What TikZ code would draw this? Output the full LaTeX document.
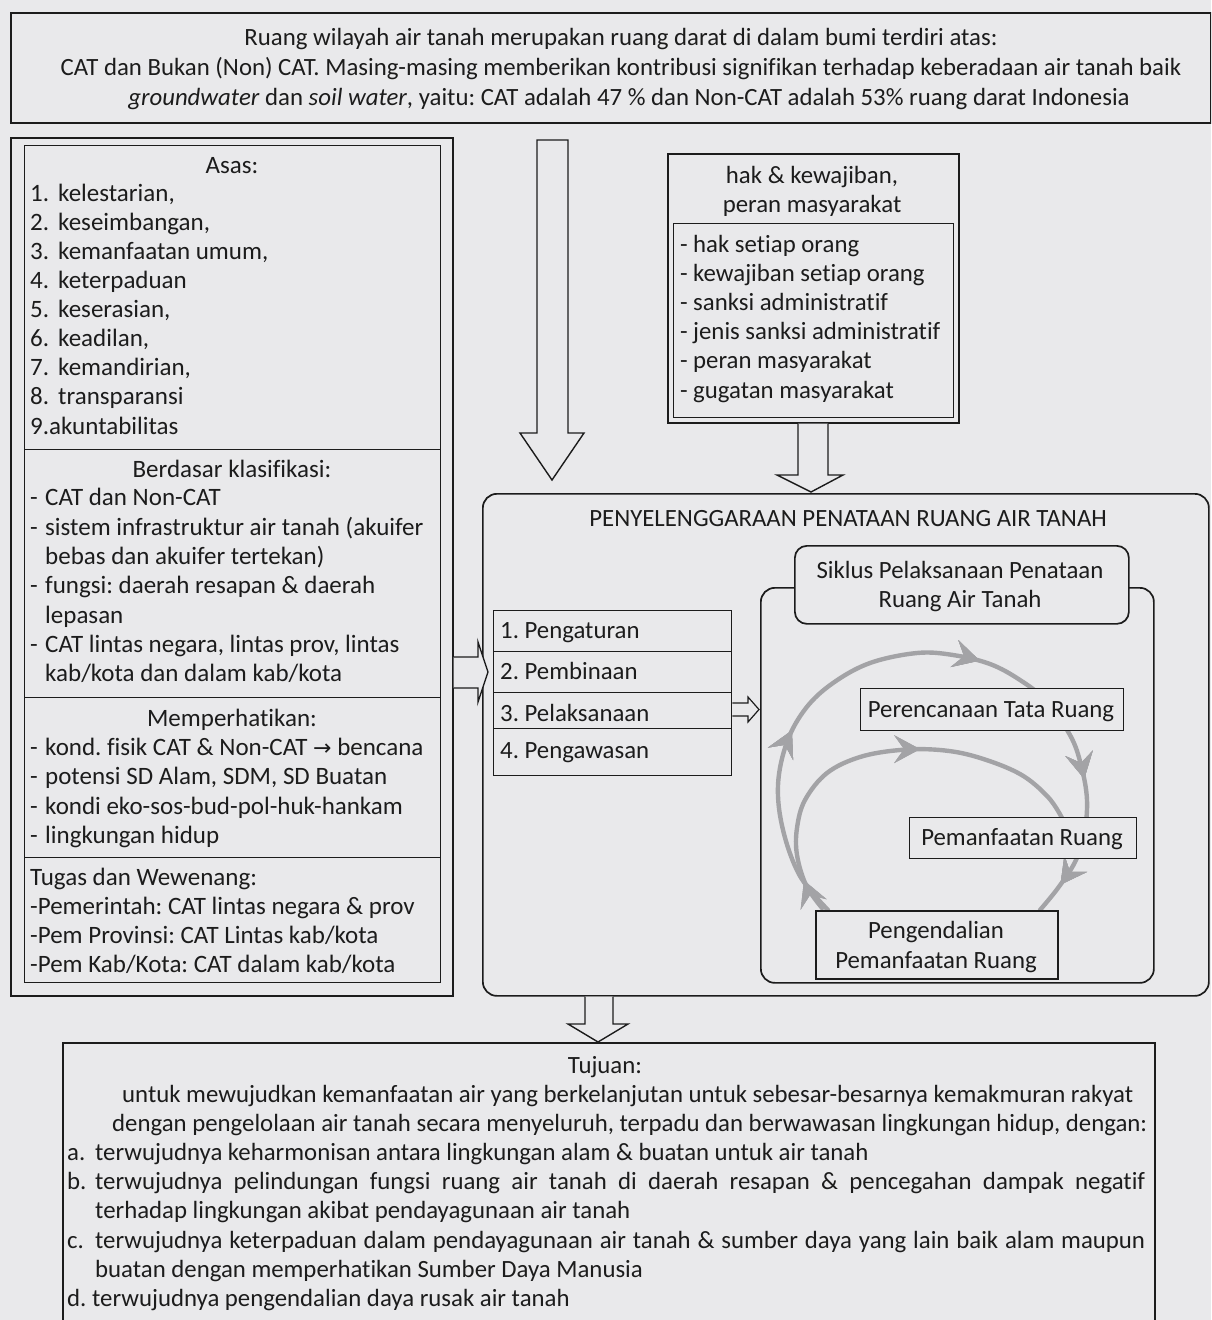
\documentclass[tikz,border=0pt]{standalone}
\usepackage{fontspec}
\setmainfont{Carlito}[Ligatures={NoCommon}]
\newfontfamily\dejavu{DejaVu Sans}
\usetikzlibrary{arrows.meta,decorations.markings}
\definecolor{paper}{RGB}{233,233,235}
\definecolor{ink}{RGB}{28,28,28}
\definecolor{cycgray}{RGB}{163,163,166}
\frenchspacing
\begin{document}
\begin{tikzpicture}[x=1pt,y=-1pt,
  txt/.style={font=\fontsize{24.8}{29.2}\selectfont, inner sep=0pt, anchor=base west, text=ink},
  ctxt/.style={txt, anchor=base},
  ltxt/.style={txt, font=\fontsize{25}{29.2}\selectfont},
  lctxt/.style={ltxt, anchor=base},
  frame/.style={draw=ink, line width=1.7pt, fill=paper, inner sep=0pt, anchor=north west},
  thinframe/.style={frame, line width=1.4pt},
  rframe/.style={frame, rounded corners=14pt},
  blockarrow/.style={draw=ink, line width=1.4pt, fill=paper, line join=miter},
  cyc/.style={draw=cycgray, line width=4.4pt, line cap=round},
  cyctip/.style={cycgray, line width=1pt},
  cycmark/.style={decoration={markings, mark=at position #1 with {\arrow[cyctip]{Stealth[length=26pt,width=28pt,inset=10pt]}}}, postaction={decorate}},
]
\fill[paper] (0,0) rectangle (1211,1320);
\useasboundingbox (0,0) rectangle (1211,1320);
\clip (0,0) rectangle (1211,1320);

% ---------- top box ----------
\node[frame, minimum width=1200pt, minimum height=110pt] (topbox) at (10,12) {};
\node[ctxt] (top1) at (621,45) {Ruang wilayah air tanah merupakan ruang darat di dalam bumi terdiri atas:};
\node[ctxt] (top2) at (621,75) {CAT dan Bukan (Non) CAT. Masing-masing memberikan kontribusi signifikan terhadap keberadaan air tanah baik};
\node[ctxt] (top3) at (629,105) {\textit{groundwater} dan \textit{soil water}, yaitu: CAT adalah 47 \% dan Non-CAT adalah 53\% ruang darat Indonesia};

% ---------- left panel ----------
\node[frame, minimum width=442pt, minimum height=858pt] (leftouter) at (10,137) {};
\node[thinframe, minimum width=416pt, minimum height=304pt] (asasbox) at (24,145) {};
\node[thinframe, minimum width=416pt, minimum height=248pt] (klasbox) at (24,449) {};
\node[thinframe, minimum width=416pt, minimum height=160pt] (perhbox) at (24,697) {};
\node[thinframe, minimum width=416pt, minimum height=125pt] (tugasbox) at (24,857) {};

\node[lctxt] (asash) at (232,173) {Asas:};
\foreach \n/\t [count=\i] in {1./{kelestarian,},2./{keseimbangan,},3./{kemanfaatan umum,},4./{keterpaduan},5./{keserasian,},6./{keadilan,},7./{kemandirian,},8./{transparansi}}
  \node[ltxt] (asas\i) at (30,{201+29.1*(\i-1)}) {\makebox[28pt][l]{\n}\t};
\node[ltxt] (asas9) at (30,434) {9.akuntabilitas};

\node[lctxt] (klash) at (232,477) {Berdasar klasifikasi:};
\node[ltxt] (klas1) at (30,505) {\makebox[15pt][l]{-}CAT dan Non-CAT};
\node[ltxt] (klas2) at (30,535) {\makebox[15pt][l]{-}sistem infrastruktur air tanah (akuifer};
\node[ltxt] (klas3) at (45,564) {bebas dan akuifer tertekan)};
\node[ltxt] (klas4) at (30,593) {\makebox[15pt][l]{-}fungsi: daerah resapan \& daerah};
\node[ltxt] (klas5) at (45,623) {lepasan};
\node[ltxt] (klas6) at (30,652) {\makebox[15pt][l]{-}CAT lintas negara, lintas prov, lintas};
\node[ltxt] (klas7) at (45,681) {kab/kota dan dalam kab/kota};

\node[lctxt] (perhh) at (232,726) {Memperhatikan:};
\node[ltxt] (perh1) at (30,755) {\makebox[15pt][l]{-}kond. fisik CAT \& Non-CAT {\dejavu\fontsize{22}{24}\selectfont →} bencana};
\node[ltxt] (perh2) at (30,784) {\makebox[15pt][l]{-}potensi SD Alam, SDM, SD Buatan};
\node[ltxt] (perh3) at (30,814) {\makebox[15pt][l]{-}kondi eko-sos-bud-pol-huk-hankam};
\node[ltxt] (perh4) at (30,843) {\makebox[15pt][l]{-}lingkungan hidup};

\node[ltxt] (tug0) at (30,885) {Tugas dan Wewenang:};
\node[ltxt] (tug1) at (30,914) {-Pemerintah: CAT lintas negara \& prov};
\node[ltxt] (tug2) at (30,943) {-Pem Provinsi: CAT Lintas kab/kota};
\node[ltxt] (tug3) at (30,972) {-Pem Kab/Kota: CAT dalam kab/kota};

% ---------- hak box ----------
\node[frame, minimum width=291pt, minimum height=269pt] (hakbox) at (667,153) {};
\node[thinframe, minimum width=280pt, minimum height=194pt] (hakin) at (673,223) {};
\node[ctxt] (hakh1) at (812,183) {hak \& kewajiban,};
\node[ctxt] (hakh2) at (812,212) {peran masyarakat};
\foreach \t [count=\i] in {{hak setiap orang},{kewajiban setiap orang},{sanksi administratif},{jenis sanksi administratif},{peran masyarakat},{gugatan masyarakat}}
  \node[txt] (hak\i) at (680,{252+29.2*(\i-1)}) {\makebox[13pt][l]{-}\t};

% ---------- main box ----------
\node[rframe, minimum width=726pt, minimum height=502pt] (mainbox) at (482,493) {};
\node[ctxt] (maint) at (848,526) {PENYELENGGARAAN PENATAAN RUANG AIR TANAH};

\node[thinframe, minimum width=238pt, minimum height=41pt] (it1) at (493,610) {};
\node[thinframe, minimum width=238pt, minimum height=41pt] (it2) at (493,651) {};
\node[thinframe, minimum width=238pt, minimum height=36pt] (it3) at (493,692) {};
\node[thinframe, minimum width=238pt, minimum height=47pt] (it4) at (493,728) {};
\node[txt] (it1t) at (500,638) {1. Pengaturan};
\node[txt] (it2t) at (500,679) {2. Pembinaan};
\node[txt] (it3t) at (500,721) {3. Pelaksanaan};
\node[txt] (it4t) at (500,758) {4. Pengawasan};

% cycle container
\node[rframe, minimum width=393pt, minimum height=395pt] (cycbox) at (760,587) {};

% cycle arrows
\draw[cyc, cycmark=0.27, cycmark=0.57, cycmark=0.80, cycmark=0.955]
  plot[smooth, tension=0.6] coordinates {(828,910) (800,876) (783,830) (778,785) (787,742) (806,708) (833,683) (870,663) (917,653) (953,655) (990,664) (1020,680) (1045,700) (1070,735) (1081,765) (1087,800) (1084,835) (1075,862) (1058,888) (1040,910)};
\draw[cyc, cycmark=0.08, cycmark=0.6]
  plot[smooth, tension=0.6] coordinates {(822,908) (806,885) (797,855) (797,828) (805,800) (827,773) (860,757) (900,750) (940,750) (977,757) (1020,774) (1048,797) (1062,818)};

\node[rframe, rounded corners=12pt, minimum width=334pt, minimum height=78pt] (siklus) at (794,545) {};
\node[ctxt] (sik1) at (960,578) {Siklus Pelaksanaan Penataan};
\node[ctxt] (sik2) at (960,607) {Ruang Air Tanah};

\node[thinframe, minimum width=263pt, minimum height=42pt] (perenc) at (860,688) {};
\node[ctxt] (perenct) at (991,717) {Perencanaan Tata Ruang};
\node[thinframe, minimum width=227pt, minimum height=41pt] (pemanf) at (909,817) {};
\node[ctxt] (pemanft) at (1022,845) {Pemanfaatan Ruang};
\node[frame, minimum width=242pt, minimum height=68pt] (pengen) at (815,910) {};
\node[ctxt] (pengen1) at (936,938) {Pengendalian};
\node[ctxt] (pengen2) at (936,968) {Pemanfaatan Ruang};

% ---------- Tujuan box ----------
\node[frame, minimum width=1092pt, minimum height=320pt] (tujbox) at (62,1042) {};
\node[ctxt] (tujh) at (605,1073) {Tujuan:};
\node[txt] (tj1) at (122,1102) {untuk mewujudkan kemanfaatan air yang berkelanjutan untuk sebesar-besarnya kemakmuran rakyat};
\node[txt] (tj2) at (112,1131) {dengan pengelolaan air tanah secara menyeluruh, terpadu dan berwawasan lingkungan hidup, dengan:};
\node[txt] (tja) at (67,1160) {\makebox[28pt][l]{a.}terwujudnya keharmonisan antara lingkungan alam \& buatan untuk air tanah};
\node[txt] (tjb) at (67,1189) {\makebox[1078pt][s]{\makebox[28pt][l]{b.}terwujudnya pelindungan fungsi ruang air tanah di daerah resapan \& pencegahan dampak negatif}};
\node[txt] (tjb2) at (95,1218) {terhadap lingkungan akibat pendayagunaan air tanah};
\node[txt] (tjc) at (67,1248) {\makebox[1078pt][s]{\makebox[28pt][l]{c.}terwujudnya keterpaduan dalam pendayagunaan air tanah \& sumber daya yang lain baik alam maupun}};
\node[txt] (tjc2) at (95,1277) {buatan dengan memperhatikan Sumber Daya Manusia};
\node[txt] (tjd) at (67,1306) {\makebox[25pt][l]{d.}terwujudnya pengendalian daya rusak air tanah};

% ---------- block arrows ----------
% big down arrow (top box -> main box)
\coordinate (bdA) at (537,140); \coordinate (bdB) at (568,140);
\coordinate (bdTip) at (552,480);
\draw[blockarrow] (bdA) -- (bdB) -- (568,433) -- (584,433) -- (bdTip) -- (520,433) -- (537,433) -- cycle;
% hak arrow
\coordinate (hkTip) at (811,492);
\draw[blockarrow] (hakbox.south -| 798,0) -- (798,475) -- (777,475) -- (hkTip) -- (843,475) -- (828,475) -- (hakbox.south -| 828,0);
% left panel -> items
\coordinate (lrTip) at (488,672);
\draw[blockarrow] (leftouter.east |- 0,657) -- (478,657) -- (478,642) -- (lrTip) -- (478,702) -- (478,688) -- (leftouter.east |- 0,688);
% items -> cycle
\coordinate (icTip) at (759,709.5);
\draw[blockarrow, line width=1.2pt] (it3.east |- 0,703) -- (748,703) -- (748,697) -- (icTip) -- (748,722) -- (748,716) -- (it3.east |- 0,716);
% main -> Tujuan
\coordinate (tjTip) at (598,1042);
\draw[blockarrow] (mainbox.south -| 585,0) -- (585,1024) -- (568,1024) -- (tjTip) -- (628,1024) -- (613,1024) -- (mainbox.south -| 613,0);
\end{tikzpicture}
\end{document}
